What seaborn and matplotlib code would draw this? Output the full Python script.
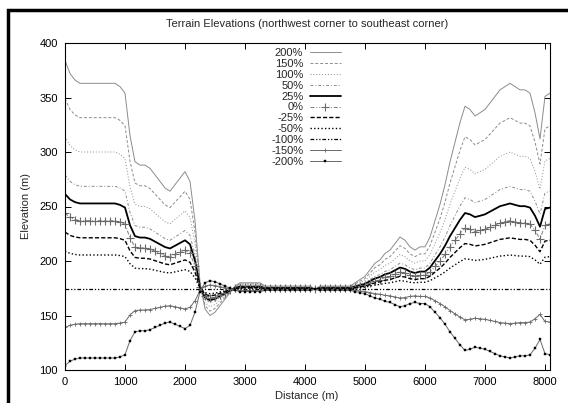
import numpy as np
import matplotlib
matplotlib.use("Agg")
import matplotlib.pyplot as plt
from matplotlib.patches import Rectangle
import seaborn as sns

# terrain profile, sampled every ~83 m from 0 to 8083 m
n_samples = 98
distance = np.linspace(0, 8083, n_samples)

elev_p200 = [384, 372, 366, 363, 363, 363, 363, 363, 363, 363,
             363, 360, 354, 315, 291, 288, 288, 285, 279, 273,
             267, 264, 270, 276, 282, 273, 237, 180, 156, 150,
             153, 159, 165, 171, 177, 180, 180, 180, 180, 180,
             177, 177, 177, 177, 177, 177, 177, 177, 177, 177,
             174, 177, 177, 177, 177, 177, 177, 177, 180, 183,
             186, 192, 198, 201, 207, 210, 216, 222, 219, 213,
             210, 213, 213, 222, 237, 252, 270, 291, 309, 327,
             342, 339, 333, 336, 339, 345, 351, 357, 360, 363,
             360, 357, 357, 354, 336, 312, 351, 354]
elev_p150 = [349, 339, 334, 331.5, 331.5, 331.5, 331.5, 331.5, 331.5, 331.5,
             331.5, 329, 324, 291.5, 271.5, 269, 269, 266.5, 261.5, 256.5,
             251.5, 249, 254, 259, 264, 256.5, 226.5, 179, 159, 154,
             156.5, 161.5, 166.5, 171.5, 176.5, 179, 179, 179, 179, 179,
             176.5, 176.5, 176.5, 176.5, 176.5, 176.5, 176.5, 176.5, 176.5, 176.5,
             174, 176.5, 176.5, 176.5, 176.5, 176.5, 176.5, 176.5, 179, 181.5,
             184, 189, 194, 196.5, 201.5, 204, 209, 214, 211.5, 206.5,
             204, 206.5, 206.5, 214, 226.5, 239, 254, 271.5, 286.5, 301.5,
             314, 311.5, 306.5, 309, 311.5, 316.5, 321.5, 326.5, 329, 331.5,
             329, 326.5, 326.5, 324, 309, 289, 321.5, 324]
elev_p100 = [314, 306, 302, 300, 300, 300, 300, 300, 300, 300,
             300, 298, 294, 268, 252, 250, 250, 248, 244, 240,
             236, 234, 238, 242, 246, 240, 216, 178, 162, 158,
             160, 164, 168, 172, 176, 178, 178, 178, 178, 178,
             176, 176, 176, 176, 176, 176, 176, 176, 176, 176,
             174, 176, 176, 176, 176, 176, 176, 176, 178, 180,
             182, 186, 190, 192, 196, 198, 202, 206, 204, 200,
             198, 200, 200, 206, 216, 226, 238, 252, 264, 276,
             286, 284, 280, 282, 284, 288, 292, 296, 298, 300,
             298, 296, 296, 294, 282, 266, 292, 294]
elev_p50 = [279, 273, 270, 268.5, 268.5, 268.5, 268.5, 268.5, 268.5, 268.5,
            268.5, 267, 264, 244.5, 232.5, 231, 231, 229.5, 226.5, 223.5,
            220.5, 219, 222, 225, 228, 223.5, 205.5, 177, 165, 162,
            163.5, 166.5, 169.5, 172.5, 175.5, 177, 177, 177, 177, 177,
            175.5, 175.5, 175.5, 175.5, 175.5, 175.5, 175.5, 175.5, 175.5, 175.5,
            174, 175.5, 175.5, 175.5, 175.5, 175.5, 175.5, 175.5, 177, 178.5,
            180, 183, 186, 187.5, 190.5, 192, 195, 198, 196.5, 193.5,
            192, 193.5, 193.5, 198, 205.5, 213, 222, 232.5, 241.5, 250.5,
            258, 256.5, 253.5, 255, 256.5, 259.5, 262.5, 265.5, 267, 268.5,
            267, 265.5, 265.5, 264, 255, 243, 262.5, 264]
elev_p25 = [261.5, 256.5, 254, 252.8, 252.8, 252.8, 252.8, 252.8, 252.8, 252.8,
            252.8, 251.5, 249, 232.8, 222.8, 221.5, 221.5, 220.3, 217.8, 215.3,
            212.8, 211.5, 214, 216.5, 219, 215.3, 200.3, 176.5, 166.5, 164,
            165.3, 167.8, 170.3, 172.8, 175.3, 176.5, 176.5, 176.5, 176.5, 176.5,
            175.3, 175.3, 175.3, 175.3, 175.3, 175.3, 175.3, 175.3, 175.3, 175.3,
            174, 175.3, 175.3, 175.3, 175.3, 175.3, 175.3, 175.3, 176.5, 177.8,
            179, 181.5, 184, 185.3, 187.8, 189, 191.5, 194, 192.8, 190.3,
            189, 190.3, 190.3, 194, 200.3, 206.5, 214, 222.8, 230.3, 237.8,
            244, 242.8, 240.3, 241.5, 242.8, 245.3, 247.8, 250.3, 251.5, 252.8,
            251.5, 250.3, 250.3, 249, 241.5, 231.5, 247.8, 249]
elev_p0 = [244, 240, 238, 237, 237, 237, 237, 237, 237, 237,
           237, 236, 234, 221, 213, 212, 212, 211, 209, 207,
           205, 204, 206, 208, 210, 207, 195, 176, 168, 166,
           167, 169, 171, 173, 175, 176, 176, 176, 176, 176,
           175, 175, 175, 175, 175, 175, 175, 175, 175, 175,
           174, 175, 175, 175, 175, 175, 175, 175, 176, 177,
           178, 180, 182, 183, 185, 186, 188, 190, 189, 187,
           186, 187, 187, 190, 195, 200, 206, 213, 219, 225,
           230, 229, 227, 228, 229, 231, 233, 235, 236, 237,
           236, 235, 235, 234, 228, 220, 233, 234]
elev_m25 = [226.5, 223.5, 222, 221.3, 221.3, 221.3, 221.3, 221.3, 221.3, 221.3,
            221.3, 220.5, 219, 209.3, 203.3, 202.5, 202.5, 201.8, 200.3, 198.8,
            197.3, 196.5, 198, 199.5, 201, 198.8, 189.8, 175.5, 169.5, 168,
            168.8, 170.3, 171.8, 173.3, 174.8, 175.5, 175.5, 175.5, 175.5, 175.5,
            174.8, 174.8, 174.8, 174.8, 174.8, 174.8, 174.8, 174.8, 174.8, 174.8,
            174, 174.8, 174.8, 174.8, 174.8, 174.8, 174.8, 174.8, 175.5, 176.3,
            177, 178.5, 180, 180.8, 182.3, 183, 184.5, 186, 185.3, 183.8,
            183, 183.8, 183.8, 186, 189.8, 193.5, 198, 203.3, 207.8, 212.3,
            216, 215.3, 213.8, 214.5, 215.3, 216.8, 218.3, 219.8, 220.5, 221.3,
            220.5, 219.8, 219.8, 219, 214.5, 208.5, 218.3, 219]
elev_m50 = [209, 207, 206, 205.5, 205.5, 205.5, 205.5, 205.5, 205.5, 205.5,
            205.5, 205, 204, 197.5, 193.5, 193, 193, 192.5, 191.5, 190.5,
            189.5, 189, 190, 191, 192, 190.5, 184.5, 175, 171, 170,
            170.5, 171.5, 172.5, 173.5, 174.5, 175, 175, 175, 175, 175,
            174.5, 174.5, 174.5, 174.5, 174.5, 174.5, 174.5, 174.5, 174.5, 174.5,
            174, 174.5, 174.5, 174.5, 174.5, 174.5, 174.5, 174.5, 175, 175.5,
            176, 177, 178, 178.5, 179.5, 180, 181, 182, 181.5, 180.5,
            180, 180.5, 180.5, 182, 184.5, 187, 190, 193.5, 196.5, 199.5,
            202, 201.5, 200.5, 201, 201.5, 202.5, 203.5, 204.5, 205, 205.5,
            205, 204.5, 204.5, 204, 201, 197, 203.5, 204]
elev_m100 = [174] * n_samples
elev_m150 = [139, 141, 142, 142.5, 142.5, 142.5, 142.5, 142.5, 142.5, 142.5,
             142.5, 143, 144, 150.5, 154.5, 155, 155, 155.5, 156.5, 157.5,
             158.5, 159, 158, 157, 156, 157.5, 163.5, 173, 177, 178,
             177.5, 176.5, 175.5, 174.5, 173.5, 173, 173, 173, 173, 173,
             173.5, 173.5, 173.5, 173.5, 173.5, 173.5, 173.5, 173.5, 173.5, 173.5,
             174, 173.5, 173.5, 173.5, 173.5, 173.5, 173.5, 173.5, 173, 172.5,
             172, 171, 170, 169.5, 168.5, 168, 167, 166, 166.5, 167.5,
             168, 167.5, 167.5, 166, 163.5, 161, 158, 154.5, 151.5, 148.5,
             146, 146.5, 147.5, 147, 146.5, 145.5, 144.5, 143.5, 143, 142.5,
             143, 143.5, 143.5, 144, 147, 151, 144.5, 144]
elev_m200 = [104, 108, 110, 111, 111, 111, 111, 111, 111, 111,
             111, 112, 114, 127, 135, 136, 136, 137, 139, 141,
             143, 144, 142, 140, 138, 141, 153, 172, 180, 182,
             181, 179, 177, 175, 173, 172, 172, 172, 172, 172,
             173, 173, 173, 173, 173, 173, 173, 173, 173, 173,
             174, 173, 173, 173, 173, 173, 173, 173, 172, 171,
             170, 168, 166, 165, 163, 162, 160, 158, 159, 161,
             162, 161, 161, 158, 153, 148, 142, 135, 129, 123,
             118, 119, 121, 120, 119, 117, 115, 113, 112, 111,
             112, 113, 113, 114, 120, 128, 115, 114]

labels = ["200%", "150%", "100%", "50%", "25%", "0%",
          "-25%", "-50%", "-100%", "-150%", "-200%"]
series = [elev_p200, elev_p150, elev_p100, elev_p50, elev_p25, elev_p0,
          elev_m25, elev_m50, elev_m100, elev_m150, elev_m200]

# gnuplot-ish monochrome line styles
grey = "#8c8c8c"
styles = [
    dict(color=grey, lw=0.7, linestyle="-"),
    dict(color=grey, lw=0.7, linestyle=(0, (3, 2))),
    dict(color=grey, lw=0.7, linestyle=(0, (1, 2))),
    dict(color=grey, lw=0.7, linestyle=(0, (3, 2, 1, 2))),
    dict(color="black", lw=1.3, linestyle="-"),
    dict(color="#7a7a7a", lw=0.7, linestyle=(0, (4, 2, 1, 2, 1, 2)),
         marker="+", markersize=6, markeredgewidth=0.8, markeredgecolor="#6a6a6a"),
    dict(color="black", lw=1.0, linestyle=(0, (3, 1.5))),
    dict(color="black", lw=1.0, linestyle=(0, (1, 1.6))),
    dict(color="black", lw=0.9, linestyle=(0, (3, 1.5, 1, 1.5, 1, 1.5))),
    dict(color="#6a6a6a", lw=0.7, linestyle="-",
         marker="+", markersize=3, markeredgewidth=0.6, markeredgecolor="#6a6a6a"),
    dict(color="#6a6a6a", lw=0.7, linestyle="-",
         marker="s", markersize=1.5, markeredgewidth=0.3,
         markerfacecolor="black", markeredgecolor="black"),
]

sns.set_theme(style="ticks")
plt.rcParams["font.family"] = ["Liberation Sans", "DejaVu Sans"]

fig = plt.figure(figsize=(5.68, 4.03), dpi=100)
ax = fig.add_axes([65 / 568, 1 - 370 / 403, 485 / 568, 327 / 403])

for lab, vals, st in zip(labels, series, styles):
    sns.lineplot(x=distance, y=vals, ax=ax, label=lab, errorbar=None, **st)

ax.set_xlim(0, 8083)
ax.set_ylim(100, 400)
ax.set_xticks(range(0, 8001, 1000))
ax.set_yticks(range(100, 401, 50))
ax.tick_params(direction="in", top=True, right=True, length=4, width=0.7,
               labelsize=8, colors="black", pad=5)
for sp in ax.spines.values():
    sp.set_linewidth(0.8)
    sp.set_color("black")

fig.text(307 / 568, 1 - 24 / 403, "Terrain Elevations (northwest corner to southeast corner)",
         ha="center", va="center", fontsize=8)
fig.text(307 / 568, 1 - 396 / 403, "Distance (m)", ha="center", va="center", fontsize=8)
fig.text(26 / 568, 1 - 206 / 403, "Elevation (m)", ha="center", va="center",
         rotation=90, fontsize=8)
ax.set_xlabel("")
ax.set_ylabel("")

ax.legend(loc="upper right", bbox_to_anchor=(341 / 568, 1 - 48 / 403),
          bbox_transform=fig.transFigure, frameon=False, markerfirst=False,
          fontsize=8, handlelength=2.8, handletextpad=0.6, labelspacing=0.08,
          borderpad=0, borderaxespad=0)

# thick outer frame (only left/top edges fall inside the image)
fig.patches.append(Rectangle((8 / 568, -0.2), 1.5, 1.2 - 10 / 403,
                             transform=fig.transFigure, fill=False,
                             lw=2.5, edgecolor="black", zorder=10))

fig.savefig("out.png", dpi=100)
